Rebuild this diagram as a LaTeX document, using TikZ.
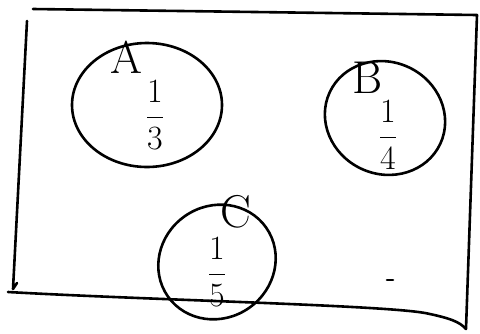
\documentclass[tikz,border=0pt]{standalone}
\usepackage{fix-cm}
\usepackage{amsmath}
\usetikzlibrary{shapes.geometric}
\tikzset{
  pen/.style={line width=2.6pt,line cap=round,line join=round},
  blob/.style={draw,ellipse,pen,inner sep=0pt},
  tag/.style={font=\fontsize{46}{48}\selectfont},
  frac/.style={font=\fontsize{34}{38}\selectfont}
}

\begin{document}
\begin{tikzpicture}[x=1pt,y=-1pt]
\useasboundingbox (0,0) rectangle (480,333);

% frame
\coordinate (tl) at (33,9);
\coordinate (tr) at (477,15);
\coordinate (br) at (466,329);
\coordinate (bl) at (8,292);
\coordinate (lt) at (27,21);
\coordinate (lb) at (13,289);

\draw[pen] (tl) -- (tr) -- (br);
\draw[pen] (lt) -- (lb) -- (17,283);
\draw[pen] (bl) .. controls (150,300) and (380,305) .. (425,313)
  .. controls (450,318) and (460,322) .. (br);

% sets
\node[blob,minimum width=150,minimum height=124] (A) at (147,105) {};
\node[blob,minimum width=122,minimum height=112,rotate=-25] (B) at (385,118) {};
\node[blob,minimum width=120,minimum height=112,rotate=35] (C) at (217,262) {};

\node[tag] at (126,57) (lA) {A};
\node[tag] at (368,78) (lB) {B};
\node[tag] at (236,212) (lC) {C};

\node[frac] at (155,115) (fA) {$\dfrac{1}{3}$};
\node[frac] at (388,135) (fB) {$\dfrac{1}{4}$};
\node[frac] at (217,272) (fC) {$\dfrac{1}{5}$};

\draw[pen] (387,280) -- (393,280);

\end{tikzpicture}
\end{document}
